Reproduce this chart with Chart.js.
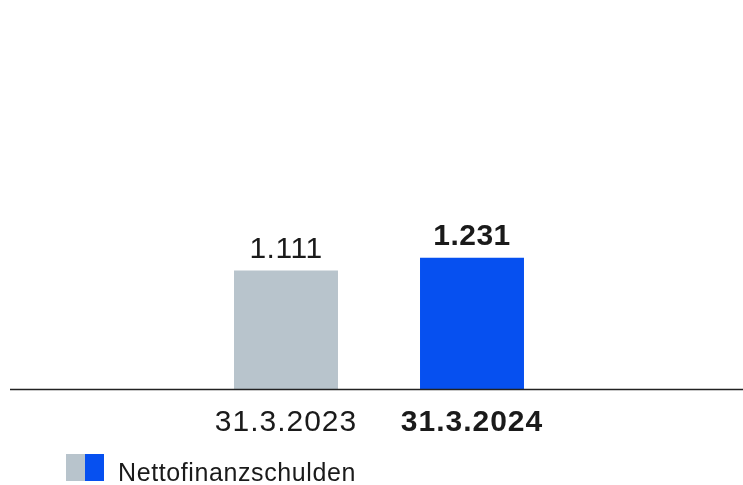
<!DOCTYPE html>
<html>
<head>
<meta charset="utf-8">
<script src="https://cdn.jsdelivr.net/npm/chart.js@4"></script>
<style>
  html, body { margin: 0; padding: 0; background: #fff; }
  #wrap { position: relative; width: 743px; height: 485px; }
  #chart { position: absolute; left: 0; top: 0; }
  .legend { position: absolute; left: 66px; top: 454px; height: 27px; font-family: "Liberation Sans", Arial, sans-serif; font-size: 25px; line-height: 25px; letter-spacing: 0.6px; color: #1a1a1a; }
  .legend .sw { position: absolute; top: 0; width: 19px; height: 27px; }
  .legend .txt { position: absolute; left: 52px; top: 6px; white-space: nowrap; }
</style>
</head>
<body>
<div id="wrap">
  <canvas id="chart" width="743" height="470"></canvas>
  <div class="legend">
    <div class="sw" style="left:0;background:#b8c4cc"></div>
    <div class="sw" style="left:19px;background:#0650f0"></div>
    <div class="txt">Nettofinanzschulden</div>
  </div>
</div>
<script>
const labels = ['31.3.2023', '31.3.2024'];
const values = [1111, 1231];
const barColors = ['#b8c4cc', '#0650f0'];
const boldIndex = 1;

const FONT = '"Liberation Sans", Arial, sans-serif';
const TEXT = '#1a1a1a';

function fmt(v) {
    return v.toLocaleString('de-DE');
}

// slightly wider text like the original
const spacing = {
    id: 'spacing',
    beforeDraw(chart) { chart.ctx.letterSpacing = '1px'; },
    afterDraw(chart) { chart.ctx.letterSpacing = '0px'; }
};

// value labels above the bars
const valueLabels = {
    id: 'valueLabels',
    afterDatasetsDraw(chart) {
        const ctx = chart.ctx;
        const meta = chart.getDatasetMeta(0);
        ctx.save();
        ctx.letterSpacing = '0.5px';
        ctx.fillStyle = TEXT;
        ctx.textAlign = 'center';
        ctx.textBaseline = 'alphabetic';
        meta.data.forEach(function(bar, i) {
            ctx.font = (i === boldIndex ? 'bold ' : '') + '30px ' + FONT;
            ctx.fillText(fmt(values[i]), bar.x, bar.y - 13);
        });
        ctx.restore();
    }
};

// full-width baseline at zero
const baseline = {
    id: 'baseline',
    afterDatasetsDraw(chart) {
        const ctx = chart.ctx;
        const y = chart.scales.y.getPixelForValue(0);
        ctx.save();
        ctx.strokeStyle = '#222';
        ctx.lineWidth = 1.5;
        ctx.beginPath();
        ctx.moveTo(10, y);
        ctx.lineTo(chart.width, y);
        ctx.stroke();
        ctx.restore();
    }
};

new Chart(document.getElementById('chart').getContext('2d'), {
    type: 'bar',
    data: {
        labels: labels,
        datasets: [{
            label: 'Nettofinanzschulden',
            data: values,
            backgroundColor: barColors,
            borderWidth: 0,
            barPercentage: 0.559,
            categoryPercentage: 1
        }]
    },
    options: {
        responsive: false,
        animation: false,
        layout: { padding: { left: 193, right: 178, top: 0, bottom: 14.5 } },
        plugins: {
            legend: { display: false },
            tooltip: { enabled: false }
        },
        scales: {
            x: {
                grid: { display: false, drawTicks: false },
                border: { display: false },
                ticks: {
                    color: TEXT,
                    padding: 15,
                    font: function(c) {
                        return { family: FONT, size: 30, weight: c.index === boldIndex ? 'bold' : 'normal' };
                    }
                }
            },
            y: {
                display: false,
                min: 0,
                max: 3640
            }
        }
    },
    plugins: [spacing, valueLabels, baseline]
});
</script>
</body>
</html>
